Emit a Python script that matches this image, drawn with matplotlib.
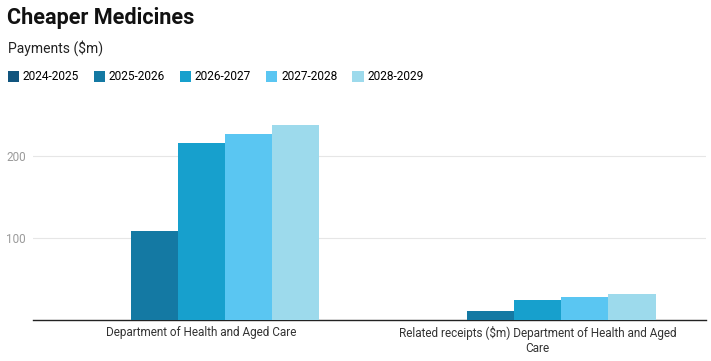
import matplotlib
matplotlib.use("Agg")
import matplotlib.pyplot as plt
import numpy as np
from matplotlib.patches import Patch

categories = ["Department of Health and Aged Care",
              "Related receipts ($m) Department of Health and Aged\nCare"]
series = ["2024-2025", "2025-2026", "2026-2027", "2027-2028", "2028-2029"]
values = {
    "2024-2025": [0, 0],
    "2025-2026": [108, 11],
    "2026-2027": [216, 24],
    "2027-2028": [227, 28],
    "2028-2029": [238, 32],
}
colors = ["#11557e", "#1479a3", "#17a0cd", "#5ac6f2", "#9ddaec"]

plt.rcParams['font.family'] = ['Roboto', 'DejaVu Sans']

fig = plt.figure(figsize=(7.11, 3.61), dpi=100)
ax = fig.add_axes([33/711, 1-320/361, 673/711, 205/361])

x = np.arange(len(categories))
w = 0.14
for i, s in enumerate(series):
    ax.bar(x + (i - 2) * w, values[s], width=w, color=colors[i], zorder=3)

ax.set_xlim(-0.5, 1.5)
ax.set_ylim(0, 250)
ax.set_yticks([100, 200])
ax.yaxis.grid(True, color="#e6e6e6", linewidth=0.8, zorder=0)
ax.tick_params(axis='y', length=0, labelsize=8.5, labelcolor="#9a9a9a", pad=5)
ax.set_xticks(x)
ax.set_xticklabels(categories, fontsize=8.5, color="#333333")
ax.tick_params(axis='x', length=0, pad=4)
for sp in ["top", "right", "left"]:
    ax.spines[sp].set_visible(False)
ax.spines["bottom"].set_color("#222222")
ax.spines["bottom"].set_linewidth(1.0)

fig.text(7/711, 1-18/361, "Cheaper Medicines", fontsize=15.6, fontweight="bold",
         color="#111111", va="center", ha="left")
fig.text(8/711, 1-48/361, "Payments ($m)", fontsize=10, color="#222222",
         va="center", ha="left")

handles = [Patch(facecolor=c, edgecolor='none') for c in colors]
fig.legend(handles, series, loc="center left", bbox_to_anchor=(3/711, 1-77/361),
           ncol=5, frameon=False, fontsize=8.6, handlelength=0.95, handleheight=0.95,
           handletextpad=0.3, columnspacing=1.25, borderaxespad=0)

fig.savefig("out.png", dpi=100)
